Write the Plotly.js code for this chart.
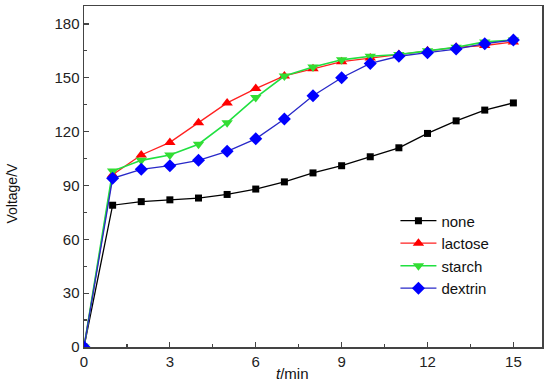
<!DOCTYPE html>
<html><head><meta charset="utf-8">
<script src="https://cdn.plot.ly/plotly-3.0.1.min.js"></script>
<style>body{margin:0;background:#fff}#c{width:550px;height:384px}</style>
</head><body><div id="c"></div>
<script>
const t = [0,1,2,3,4,5,6,7,8,9,10,11,12,13,14,15];
const none    = [0,79,81,82,83,85,88,92,97,101,106,111,119,126,132,136];
const lactose = [0,96,107,114,125,136,144,151,155,159,161,163,165,167,168,170];
const starch  = [0,98,104,107,113,125,139,151,156,160,162,163,165,167,170,171];
const dextrin = [0,94,99,101,104,109,116,127,140,150,158,162,164,166,169,171];
const names = ['none','lactose','starch','dextrin'];
const xTicks = [0,3,6,9,12,15];
const yTicks = [0,30,60,90,120,150,180];

const traces = [
  {x:t,y:none,name:names[0],mode:'lines+markers',line:{color:'#000',width:1.3},marker:{symbol:'square',size:7,color:'#000'}},
  {x:t,y:lactose,name:names[1],mode:'lines+markers',line:{color:'#ff2020',width:1.3},marker:{symbol:'triangle-up',size:10,color:'#ff0000'}},
  {x:t,y:starch,name:names[2],mode:'lines+markers',line:{color:'#20e040',width:1.6},marker:{symbol:'triangle-down',size:10,color:'#33dd33'}},
  {x:t,y:dextrin,name:names[3],mode:'lines+markers',line:{color:'#2828c8',width:1.3},marker:{symbol:'diamond',size:10,color:'#0000ff'}}
];
const axisCommon = {showline:true,mirror:true,linecolor:'#444',linewidth:1.5,ticks:'inside',ticklen:5,tickcolor:'#444',tickwidth:1.2,showgrid:false,zeroline:false,tickfont:{family:'Liberation Sans, Arial',size:15,color:'#222'}};
const layout = {
  width:550,height:384,
  margin:{l:84,r:8,t:6,b:37},
  paper_bgcolor:'#fff',plot_bgcolor:'#fff',
  xaxis:Object.assign({},axisCommon,{range:[0,16],tickvals:xTicks,ticktext:xTicks.map(String),minor:{dtick:1.5,tick0:0,ticks:'inside',ticklen:3,tickcolor:'#444'}}),
  yaxis:Object.assign({},axisCommon,{range:[0,190],tickvals:yTicks,ticktext:yTicks.map(String),minor:{dtick:15,tick0:0,ticks:'inside',ticklen:3,tickcolor:'#444'}}),
  showlegend:true,
  legend:{x:0.68,y:0.418,xanchor:'left',yanchor:'top',bgcolor:'rgba(0,0,0,0)',font:{family:'Liberation Sans, Arial',size:15,color:'#111'},itemwidth:36,tracegroupgap:0},
  annotations:[
    {text:'<i>t</i>/min',xref:'paper',yref:'paper',x:0.456,y:0,yshift:-26,xanchor:'center',yanchor:'middle',showarrow:false,font:{family:'Liberation Sans, Arial',size:15,color:'#111'}},
    {text:'Voltage/V',xref:'paper',yref:'paper',x:0,xshift:-72,y:0.45,textangle:-90,xanchor:'center',yanchor:'middle',showarrow:false,font:{family:'Liberation Sans, Arial',size:14,color:'#111'}}
  ]
};
Plotly.newPlot('c',traces,layout,{displayModeBar:false,staticPlot:true});
</script></body></html>
